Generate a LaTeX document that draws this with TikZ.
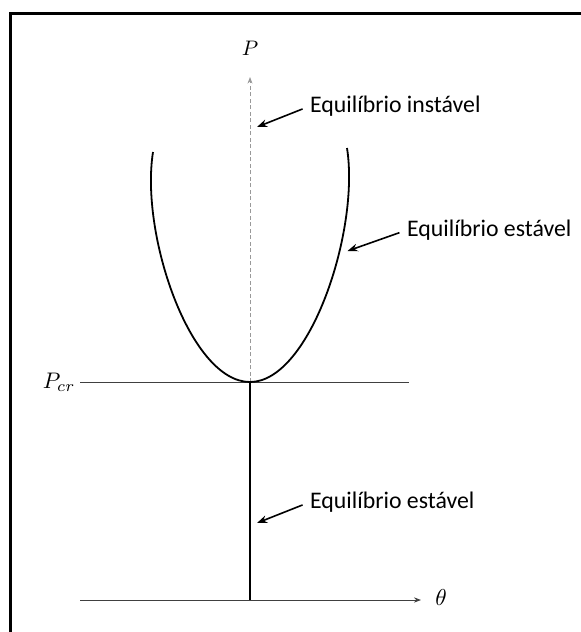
\documentclass[tikz,border=0pt]{standalone}
\usepackage{fontspec}
\setmainfont{Carlito}
\usetikzlibrary{arrows.meta}
\newcommand{\symb}[2][2.1]{\scalebox{#1}{$#2$}}
\begin{document}
\begin{tikzpicture}[x=1pt,y=-1pt,>=Stealth,font=\fontsize{23.8}{28}\selectfont,
    lbl/.style={anchor=west,inner sep=0pt},
    sym/.style={inner sep=0pt,font=\normalsize},
    pointer/.style={->,line width=1.6pt,shorten <=8pt}]
  \useasboundingbox (0,0) rectangle (581,632);
  \draw[line width=3pt] (10.8,632) -- (10.8,13.7) -- (581,13.7);
  % eixos
  \coordinate (C) at (250,382);
  \coordinate (O) at (250,600);
  \draw[->,line width=0.9pt,black!75] (80,600) -- (421,600);
  \node[sym] (th) at (441,598) {\symb[2.3]{\theta}};
  \draw[->,gray!80,line width=0.8pt,dash pattern=on 4pt off 2.5pt] (C) -- (250,77);
  \node[sym] (P) at (250,48) {\symb{P}};
  \draw[line width=0.9pt,black!75] (80,382) -- (409,382);
  \node[sym] (Pcr) at (59,382) {\symb[2.25]{P_{cr}}};
  % trajetorias de equilibrio
  \draw[line width=2.4pt] (C) -- (O);
  \draw[line width=1.8pt] (C) .. controls (310,382) and (360,230) .. (347,148);
  \draw[line width=1.8pt] (C) .. controls (190,382) and (140,234) .. (153,152);
  % legendas
  \node[lbl] (ins) at (310,106) {Equilíbrio instável};
  \coordinate (insT) at (257,127);
  \draw[pointer] (ins.west) -- (insT);
  \node[lbl] (est) at (407,230) {Equilíbrio estável};
  \coordinate (estT) at (347.5,251);
  \draw[pointer] (est.west) -- (estT);
  \node[lbl] (est2) at (310,502) {Equilíbrio estável};
  \coordinate (est2T) at (257,523);
  \draw[pointer] (est2.west) -- (est2T);
\end{tikzpicture}
\end{document}
